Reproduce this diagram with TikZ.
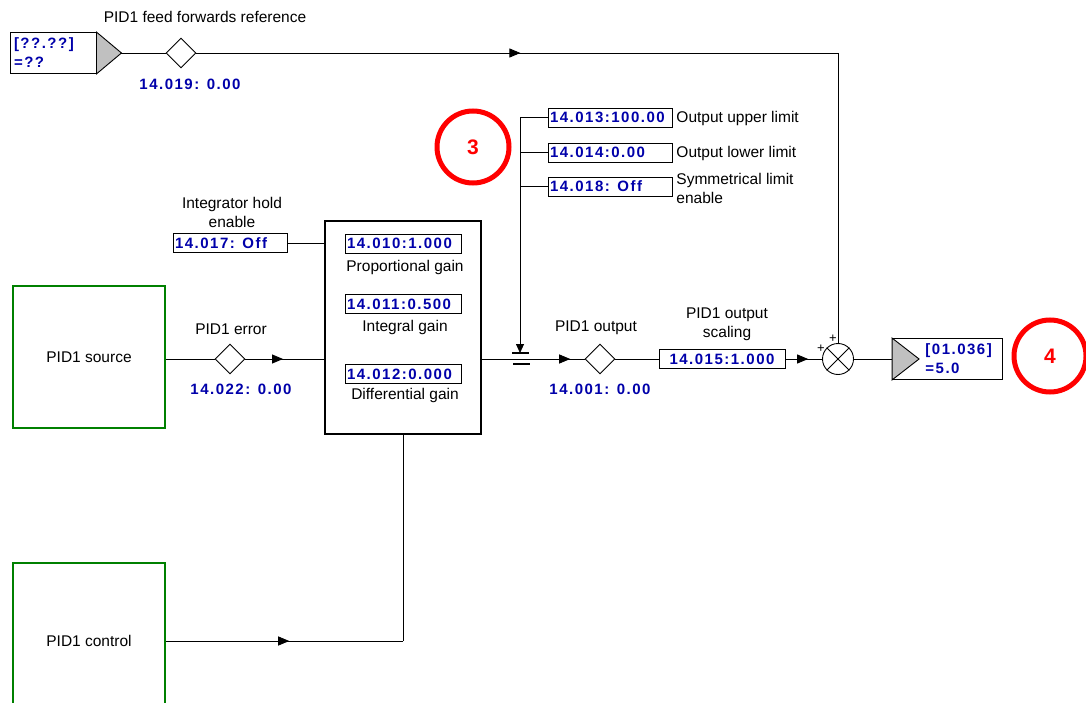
\documentclass[tikz,border=0pt]{standalone}
\usepackage{fontspec}
\setmainfont{Liberation Sans}
\newfontfamily\valfont[LetterSpace=10]{Liberation Sans}
\usetikzlibrary{arrows.meta,calc,shapes.geometric,decorations.markings}
\definecolor{valblue}{RGB}{0,0,170}
\definecolor{boxgreen}{RGB}{0,128,0}
\definecolor{tipgray}{RGB}{192,192,192}
\newcommand\pidval{\fontsize{15}{19}\valfont\bfseries}
\newcommand\pidtxt{\fontsize{15.5}{19}\selectfont}

\begin{document}
\begin{tikzpicture}[x=1pt,y=-1pt,line width=0.9pt,
lbl/.style={font=\pidtxt, align=center, inner sep=0pt},
val/.style={font=\pidval, text=valblue, inner sep=0pt},
pbox/.style={draw, minimum height=19pt, inner ysep=0pt, inner xsep=2pt, text width=#1, align=left, font=\pidval, text=valblue},
blk/.style={draw=boxgreen, line width=2pt, minimum width=152pt, font=\pidtxt},
dia/.style={diamond, draw, minimum width=30pt, minimum height=30pt, inner sep=0pt},
tip/.style={draw, fill=tipgray},
numring/.style={circle, draw=red, line width=5pt, minimum size=72pt, text=red, font=\fontsize{21}{24}\selectfont\bfseries},
marr/.style={postaction={decorate}, decoration={markings, mark=at position #1 with {\arrow{Triangle[length=11pt,width=9pt]}}}}]

\fill[white] (0,0) rectangle (1086,703);
\useasboundingbox (0,0) rectangle (1086,703);
\clip (0,0) rectangle (1086,703);

% feed forwards reference
\node[draw, minimum width=86pt, minimum height=41pt, text width=78pt, inner xsep=4pt, align=left, font=\pidval, text=valblue] (inref) at (53,53) {[??.??]\\=??};
\coordinate (inref tip) at ($(inref.east)+(25,0)$);
\draw[tip] (inref.north east) -- (inref tip) -- (inref.south east) -- cycle;
\node[dia] (ffdia) at (181,53) {};
\node[lbl] (fflbl) at (205,17) {PID1 feed forwards reference};
\node[val] (ffval) at (190,84) {14.019: 0.00};
\coordinate (ffc) at (838,53);
\draw (inref tip) -- (ffdia);

% source and error
\node[blk, minimum height=142pt] (src) at (89,357) {PID1 source};
\node[dia] (errdia) at (230,359) {};
\node[lbl] (errlbl) at (231,329) {PID1 error};
\node[val] (errval) at (241,389) {14.022: 0.00};

% PID block
\node[draw, line width=2.5pt, minimum width=156pt, minimum height=213pt] (pid) at (403,327.5) {};
\node[pbox=112pt] (kp) at (403,243.5) {14.010:1.000};
\node[lbl] (kplbl) at (405,267) {Proportional gain};
\node[pbox=112pt] (ki) at (403,304) {14.011:0.500};
\node[lbl] (kilbl) at (405,327) {Integral gain};
\node[pbox=112pt] (kd) at (403,374) {14.012:0.000};
\node[lbl] (kdlbl) at (405,395) {Differential gain};
\node[pbox=110pt] (ihold) at (230,243) {14.017: Off};
\node[lbl] (iholdlbl) at (232,212.5) {Integrator hold\\enable};
\draw (src.east |- errdia) -- (errdia);
\draw[marr=0.48] (errdia) -- (pid.west |- errdia);
\draw (ihold) -- (pid.west |- ihold);

% output limits
\node[pbox=120pt] (hi) at (610,117.5) {14.013:100.00};
\node[pbox=120pt] (lo) at (610,152.5) {14.014:0.00};
\node[pbox=120pt] (sym) at (610,186.5) {14.018: Off};
\node[lbl, anchor=west] (hilbl) at (676,118) {Output upper limit};
\node[lbl, anchor=west] (lolbl) at (676,153) {Output lower limit};
\node[lbl, anchor=west, align=left] (symlbl) at (676,188.5) {Symmetrical limit\\enable};
\coordinate (sw) at (520,360);
\draw (sw |- hi.west) -- (hi.west);
\draw (sw |- lo.west) -- (lo.west);
\draw (sw |- sym.west) -- (sym.west);
\draw[-{Triangle[length=9pt,width=8pt]}] (sw |- hi.west) -- ([yshift=7pt]sw);
\draw[line width=2pt] ([xshift=-8pt,yshift=7pt]sw) -- ([xshift=9pt,yshift=7pt]sw);
\draw[line width=2pt] ([xshift=-7pt,yshift=-4pt]sw) -- ([xshift=10pt,yshift=-4pt]sw);

% output and scaling
\node[dia] (outdia) at (600,359) {};
\node[lbl] (outlbl) at (596,328) {PID1 output};
\node[val] (outval) at (600,389) {14.001: 0.00};
\node[pbox=122pt, align=center] (scale) at (722,359) {14.015:1.000};
\node[lbl] (scalelbl) at (727,324.5) {PID1 output\\scaling};
\draw[marr=0.86] (pid.east |- outdia) -- (outdia);
\draw (outdia) -- (scale);

% summing point
\node[circle, draw, minimum size=31pt, inner sep=0pt] (sum) at (838,359) {};
\draw (sum.north east) -- (sum.south west) (sum.north west) -- (sum.south east);
\node[font=\fontsize{13}{13}\selectfont, inner sep=0pt] (plus1) at (821,349) {+};
\node[font=\fontsize{13}{13}\selectfont, inner sep=0pt] (plus2) at (833,339) {+};
\draw[marr=0.62] (scale) -- (sum);
\draw[marr=0.505] (ffdia) -- (ffc);
\draw (ffc) -- (sum);

% destination
\node[draw, minimum width=110pt, minimum height=41pt] (outbox) at (947.5,359) {};
\draw[tip] (outbox.north west) -- ($(outbox.west)+(27,0)$) -- (outbox.south west) -- cycle;
\node[val, anchor=west, align=left] (outtxt) at (925,359) {[01.036]\\=5.0};
\draw (sum) -- (outbox);

\node[numring] (ring3) at (473,147) {3};
\node[numring] (ring4) at (1050,356) {4};

% control
\node[blk, minimum height=156pt] (ctrl) at (89,641) {PID1 control};
\coordinate (ctrlc) at (pid.south |- ctrl.east);
\draw[marr=0.52] (ctrl) -- (ctrlc);
\draw (ctrlc) -- (pid.south);

\end{tikzpicture}
\end{document}
